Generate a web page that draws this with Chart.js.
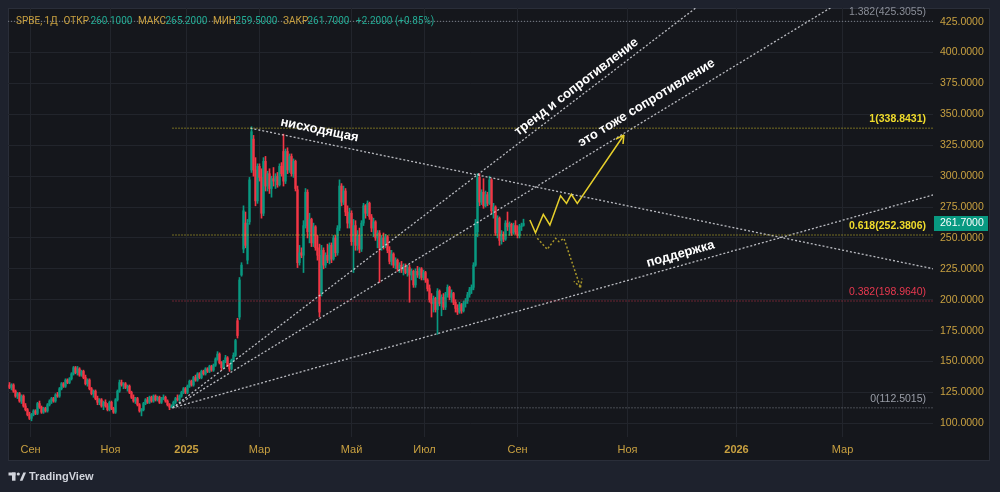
<!DOCTYPE html>
<html>
<head>
<meta charset="utf-8">
<style>
  html, body { margin: 0; padding: 0; background: #1e222d; }
  canvas { display: block; }
</style>
<script src="https://cdn.jsdelivr.net/npm/chart.js@4.4.1/dist/chart.umd.min.js"></script>
</head>
<body>
<canvas id="chart" width="1000" height="492"></canvas>
<script>
// SPBE, daily candles: [open, high, low, close]
const candles = [
  [131,133,128,129],[129,132,127,131],[131,132,125,126],[126,127,121,122],[122,125,120,124],
  [124,125,117,118],[118,123,116,122],[122,123,113,114],[114,116,110,111],[111,112,106,107],
  [107,109,103,104],[104,108,102,107],[107,111,106,110],[110,111,107,108],[108,117,107,116],
  [116,118,112,113],[113,114,108,109],[109,113,108,112],[112,113,109,110],[110,116,109,115],
  [115,119,114,118],[118,121,116,120],[120,121,117,118],[118,124,117,123],[123,125,121,122],
  [122,129,121,128],[128,133,127,132],[132,133,129,130],[130,136,129,135],[135,136,132,133],
  [133,137,132,136],[136,141,135,140],[140,146,139,145],[145,146,140,141],[141,146,139,144],
  [144,145,138,139],[139,143,138,142],[142,143,136,137],[137,139,131,132],[132,136,130,135],
  [135,136,127,128],[128,129,123,124],[124,127,121,126],[126,127,119,120],[120,122,115,117],
  [117,120,115,119],[119,120,113,114],[114,118,111,117],[117,119,113,114],[114,116,110,111],
  [111,118,110,117],[117,118,111,112],[112,113,108,109],[109,120,108,119],[119,127,118,126],
  [126,135,125,133],[133,135,130,131],[131,133,128,132],[132,133,128,129],[129,131,126,130],
  [130,131,124,125],[125,126,120,121],[121,123,117,118],[118,121,116,120],[120,121,114,115],
  [115,116,109,110],[110,112,106,111],[111,117,110,116],[116,120,115,119],[119,121,116,117],
  [117,122,116,121],[121,122,117,118],[118,123,117,122],[122,123,118,119],[119,122,118,121],
  [121,122,116,117],[117,121,116,120],[120,123,119,121],[121,122,117,118],[118,119,114,115],
  [115,116,111,113],[113,115,112.5,114],[114,118,113,117],[117,121,116,120],[120,123,118,119],
  [119,123,118,122],[122,126,121,125],[125,129,124,128],[128,129,124,125],[125,131,124,130],
  [130,135,129,134],[134,135,130,131],[131,138,130,137],[137,139,134,135],[135,141,134,140],
  [140,141,136,137],[137,143,136,142],[142,143,139,140],[140,145,139,144],[144,145,141,142],
  [142,147,141,146],[146,147,142,143],[143,148,142,147],[147,153,146,152],[152,158,151,156],
  [156,157,148,149],[149,150,143,145],[145,151,144,150],[150,155,149,153],[153,154,146,147],
  [147,148,142,144],[144,152,143,151],[151,157,150,155],[155,168,154,167],[183,185,169,171],
  [186,218,184,216],[220,230,219,228],[241,276,238,272],[262,271,242,244],[232,265,229,262],
  [263,299,261,297],[305,340,303,336],[330,333,300,305],[305,315,276,280],[280,310,278,308],
  [308,310,296,299],[299,306,266,270],[270,315,268,312],[312,316,288,292],[292,304,288,302],
  [302,306,286,290],[290,300,283,298],[298,307,292,296],[296,302,290,300],[300,303,291,293],
  [293,310,292,308],[308,311,300,302],[320,334,292,296],[296,322,294,320],[320,323,302,305],
  [305,318,303,316],[316,318,300,302],[302,314,299,312],[312,313,288,290],[289,292,226,230],
  [230,244,228,238],[238,242,234,236],[236,264,222,260],[260,290,258,287],[287,289,250,255],
  [255,270,246,265],[265,266,243,246],[246,262,243,259],[259,260,240,242],[242,252,232,236],
  [236,245,186,190],[205,244,203,240],[240,242,225,228],[228,238,226,236],[236,245,230,232],
  [232,246,229,244],[244,246,230,233],[233,252,232,250],[250,252,235,238],[238,260,236,258],
  [258,297,256,292],[292,294,276,279],[279,292,277,288],[288,290,268,271],[271,276,258,262],
  [262,274,258,270],[270,272,244,247],[247,265,222,260],[260,264,240,244],[244,256,240,252],
  [252,258,238,241],[241,264,239,262],[262,278,260,276],[276,277,266,270],[270,280,268,278],
  [278,279,265,267],[267,269,255,258],[258,266,251,263],[263,264,248,250],[250,256,242,254],
  [254,256,214,242],[242,252,240,250],[250,254,241,244],[244,253,242,251],[251,252,238,240],
  [240,243,229,231],[231,240,228,237],[237,238,226,228],[228,234,225,232],[232,233,223,225],
  [225,230,222,228],[228,231,222,224],[224,229,220,227],[227,229,221,222],[222,228,219,226],
  [226,228,198,220],[220,225,216,223],[223,224,210,212],[212,225,210,223],[223,227,218,220],
  [220,226,217,225],[225,226,216,218],[218,224,216,222],[222,223,214,216],[216,217,207,209],
  [209,212,198,200],[200,205,186,197],[197,203,190,201],[201,202,190,192],[192,209,172,207],
  [207,208,195,197],[197,204,187,202],[202,205,192,194],[194,206,192,204],[204,212,202,210],
  [210,211,200,202],[202,208,198,205],[205,206,196,198],[198,200,190,193],[193,196,188,190],
  [190,198,189,196],[196,197,189,191],[191,199,190,197],[197,201,194,199],[199,206,197,204],
  [204,210,202,208],[208,212,205,210],[210,230,208,228],[228,265,227,262],[255,302,251,299],
  [299,302,276,279],[279,289,277,287],[287,298,274,276],[276,288,275,285],[285,287,276,278],
  [278,300,277,297],[297,298,270,272],[272,278,266,275],[275,276,252,254],[254,268,250,266],
  [266,267,244,248],[248,256,245,253],[253,255,247,249],[249,264,248,262],[262,271,256,259],
  [259,263,252,261],[261,262,252,254],[254,262,253,260],[260,264,253,255],[255,260,250,252],
  [252,261,250,259],[259,262,256,259.5],[260.1,265.2,259.5,261.7]
];

// time axis (bar index) and labels
const monthPos = [10.5, 50.5, 88.5, 125, 171, 207.5, 254, 309, 363.5, 416.5];
const monthLabels = ['Сен', 'Ноя', '2025', 'Мар', 'Май', 'Июл', 'Сен', 'Ноя', '2026', 'Мар'];
const priceTicks = [100, 125, 150, 175, 200, 225, 250, 275, 300, 325, 350, 375, 400, 425];

// fibonacci levels
const fibLevels = [1.382, 1, 0.618, 0.382, 0];
const fibPrices = [425.3055, 338.8431, 252.3806, 198.9640, 112.5015];
const fibStart = [-0.75, 81.5, 81.5, 81.5, 81.5];
const fibColors = ['#7d818b', '#d4c22a', '#d4c22a', '#c43347', '#7d818b'];
const fibTextColors = ['#8a8e98', '#f0dc2c', '#f0dc2c', '#e8384f', '#9a9ea8'];

// drawn trend lines: [bar index, price]
const downTrend = [[120.5, 338.8], [462, 225]];
const trendUp = [[81.5, 112.5], [360, 457]];
const resistance = [[81.5, 112.5], [420, 445.6]];
const support = [[81.5, 112.5], [462, 284.9]];

// forecast paths
const bullPath = [[260.2, 264.5], [263, 254.2], [266.9, 269.1], [270.2, 260.5], [275.5, 284.2],
  [278.5, 278], [280.9, 285.3], [283.9, 278], [307.2, 333.3]];
const bearPath = [[263.9, 249.7], [268.9, 240.8], [273, 249.7], [274.7, 247], [277.2, 249.7], [285.5, 210]];

// captions: text, bar index, price, line it follows
const notes = [
  ['нисходящая', 155, 337.4, downTrend],
  ['тренд и сопротивление', 283.5, 372.2, trendUp],
  ['это тоже сопротивление', 318.5, 359.2, resistance],
  ['поддержка', 335.5, 237, support]
];

const UP = '#089981', DOWN = '#f23645';
const GOLD = '#c8a040', TEAL = '#22ab94';
const FONT = '"Liberation Sans", Arial, sans-serif';
const candleColors = candles.map(c => c[3] >= c[0] ? UP : DOWN);

function lineDs(pts, color, dash, width) {
  return {
    type: 'line',
    data: pts.map(p => ({ x: p[0], y: p[1] })),
    borderColor: color,
    borderWidth: width,
    borderDash: dash,
    pointRadius: 0,
    tension: 0,
    fill: false,
    order: 0
  };
}

const datasets = [];
fibPrices.forEach((p, k) => datasets.push(lineDs([[fibStart[k], p], [462, p]], fibColors[k], [1, 2], 1)));
[downTrend, trendUp, resistance, support].forEach(l => datasets.push(lineDs(l, 'rgba(215,216,222,0.85)', [2, 2], 1.3)));
datasets.push(lineDs(bullPath, '#e6cf2b', [], 1.5));
datasets.push(lineDs(bearPath, '#a8962a', [2, 2], 1.5));
datasets.push({
  type: 'bar',
  data: candles.map((c, i) => ({ x: i, y: [Math.min(c[0], c[3]), Math.max(c[0], c[3])] })),
  backgroundColor: candleColors,
  barThickness: 1.6,
  minBarLength: 1,
  grouped: false,
  order: 1
});
datasets.push({
  type: 'bar',
  data: candles.map((c, i) => ({ x: i, y: [c[2], c[1]] })),
  backgroundColor: candleColors,
  barThickness: 1,
  grouped: false,
  order: 2
});

function arrowHead(c, pts, xs, ys, color, dashed) {
  const a = pts[pts.length - 2], b = pts[pts.length - 1];
  const x1 = xs.getPixelForValue(a[0]), y1 = ys.getPixelForValue(a[1]);
  const x2 = xs.getPixelForValue(b[0]), y2 = ys.getPixelForValue(b[1]);
  const ang = Math.atan2(y2 - y1, x2 - x1);
  c.save();
  c.strokeStyle = color;
  c.lineWidth = 1.5;
  c.setLineDash(dashed ? [2, 2] : []);
  c.beginPath();
  [-0.5, 0.5].forEach(d => {
    c.moveTo(x2, y2);
    c.lineTo(x2 - 9 * Math.cos(ang + d), y2 - 9 * Math.sin(ang + d));
  });
  c.stroke();
  c.restore();
}

const decor = {
  id: 'decor',
  beforeDraw(chart) {
    const c = chart.ctx;
    c.save();
    c.fillStyle = '#1e222d';
    c.fillRect(0, 0, chart.width, chart.height);
    c.fillStyle = '#15171c';
    c.fillRect(8, 8, 982, 453);
    c.strokeStyle = '#2a2e39';
    c.lineWidth = 1;
    c.strokeRect(8.5, 8.5, 981, 452);
    c.restore();
  },
  afterDatasetsDraw(chart) {
    const c = chart.ctx, xs = chart.scales.x, ys = chart.scales.y, area = chart.chartArea;
    c.save();
    // fib labels
    c.textAlign = 'right';
    c.textBaseline = 'middle';
    fibPrices.forEach((p, k) => {
      c.font = (k === 1 || k === 2 ? 'bold ' : '') + '10.5px ' + FONT;
      c.fillStyle = fibTextColors[k];
      c.fillText(fibLevels[k] + '(' + p.toFixed(4) + ')', area.right - 7, ys.getPixelForValue(p) - 9);
    });
    // captions along the lines
    c.font = 'bold 13px ' + FONT;
    c.fillStyle = '#ffffff';
    c.textAlign = 'center';
    notes.forEach(n => {
      const l = n[3];
      const ang = Math.atan2(ys.getPixelForValue(l[1][1]) - ys.getPixelForValue(l[0][1]),
        xs.getPixelForValue(l[1][0]) - xs.getPixelForValue(l[0][0]));
      c.save();
      c.translate(xs.getPixelForValue(n[1]), ys.getPixelForValue(n[2]));
      c.rotate(ang);
      c.fillText(n[0], 0, 0);
      c.restore();
    });
    c.restore();
    arrowHead(c, bullPath, xs, ys, '#e6cf2b', false);
    arrowHead(c, bearPath, xs, ys, '#a8962a', true);
  },
  afterDraw(chart) {
    const c = chart.ctx, ys = chart.scales.y, area = chart.chartArea;
    const last = candles[candles.length - 1], prev = candles[candles.length - 2];
    c.save();
    // last price tag
    const yp = ys.getPixelForValue(last[3]);
    c.fillStyle = UP;
    c.fillRect(area.right + 1, Math.round(yp) - 7, 54, 15);
    c.fillStyle = '#ffffff';
    c.font = '10.5px ' + FONT;
    c.textAlign = 'left';
    c.textBaseline = 'middle';
    c.fillText(last[3].toFixed(4), area.right + 7, Math.round(yp) + 0.5);
    // legend header
    const chg = last[3] - prev[3];
    const parts = [
      ['SPBE, 1Д', GOLD, 16], ['ОТКР', GOLD, 63.5], [last[0].toFixed(4), TEAL, 90.5],
      ['МАКС', GOLD, 138], [last[1].toFixed(4), TEAL, 165.5], ['МИН', GOLD, 213],
      [last[2].toFixed(4), TEAL, 235.5], ['ЗАКР', GOLD, 283], [last[3].toFixed(4), TEAL, 307.5],
      ['+' + chg.toFixed(4) + ' (+' + (chg / prev[3] * 100).toFixed(2) + '%)', TEAL, 356]
    ];
    c.font = '10px Roboto, ' + FONT;
    parts.forEach(p => {
      c.fillStyle = p[1];
      c.fillText(p[0], p[2], 21.5);
    });
    // TradingView mark
    c.fillStyle = '#d1d4dc';
    c.fillRect(8.5, 472.5, 7, 3);
    c.fillRect(12, 472.5, 3.5, 8.2);
    c.beginPath();
    c.arc(18.3, 474, 1.6, 0, Math.PI * 2);
    c.fill();
    c.beginPath();
    c.moveTo(19.8, 480.7);
    c.lineTo(23.3, 472.5);
    c.lineTo(26, 472.5);
    c.lineTo(22.5, 480.7);
    c.closePath();
    c.fill();
    c.font = '600 11px ' + FONT;
    c.fillText('TradingView', 29, 477);
    c.restore();
  }
};

new Chart(document.getElementById('chart'), {
  type: 'bar',
  data: { datasets: datasets },
  options: {
    responsive: false,
    animation: false,
    devicePixelRatio: 1,
    layout: { padding: { left: 8, top: 8, right: 10, bottom: 31 } },
    plugins: { legend: { display: false }, tooltip: { enabled: false } },
    events: [],
    scales: {
      x: {
        type: 'linear',
        min: -0.75,
        max: 461.75,
        offset: false,
        grid: { color: '#22252c', offset: false, drawTicks: false },
        border: { display: false },
        afterFit: s => { s.height = 24; s.paddingLeft = 0; s.paddingRight = 0; },
        afterBuildTicks: s => { s.ticks = monthPos.map(v => ({ value: v })); },
        ticks: {
          autoSkip: false,
          maxRotation: 0,
          padding: 6,
          color: GOLD,
          font: ctx => ({ family: FONT, size: 11, weight: /^\d{4}$/.test(monthLabels[ctx.index]) ? 'bold' : 'normal' }),
          callback: (v, i) => monthLabels[i]
        }
      },
      y: {
        type: 'linear',
        position: 'right',
        min: 88.9,
        max: 436.1,
        grid: { color: '#22252c', drawTicks: false },
        border: { display: false },
        afterFit: s => { s.width = 57; s.paddingTop = 0; s.paddingBottom = 0; },
        afterBuildTicks: s => { s.ticks = priceTicks.map(v => ({ value: v })); },
        ticks: {
          padding: 7,
          color: GOLD,
          font: { family: FONT, size: 10.5 },
          callback: v => v.toFixed(4)
        }
      }
    }
  },
  plugins: [decor]
});
</script>
</body>
</html>
